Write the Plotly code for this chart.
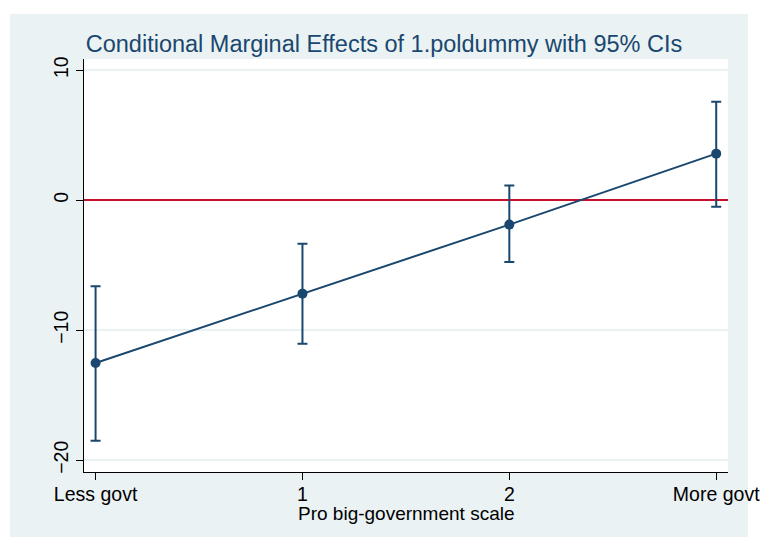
import plotly.graph_objects as go

# Conditional marginal effects of 1.poldummy across the pro big-government scale
scale_pos = [0, 1, 2, 3]
tick_labels = ["Less govt", "1", "2", "More govt"]
effect = [-12.52, -7.19, -1.88, 3.58]
ci_upper = [-6.63, -3.35, 1.12, 7.58]
ci_lower = [-18.5, -11.04, -4.75, -0.5]

navy = "#1A476F"
bg_blue = "#EAF2F3"
font_family = "Liberation Sans, Arial, sans-serif"

err_plus = [u - e for u, e in zip(ci_upper, effect)]
err_minus = [e - l for e, l in zip(effect, ci_lower)]

fig = go.Figure()
fig.add_trace(go.Scatter(
    x=scale_pos, y=effect,
    mode="lines+markers",
    line=dict(color=navy, width=2),
    marker=dict(color=navy, size=10),
    error_y=dict(type="data", symmetric=False, array=err_plus, arrayminus=err_minus,
                 color=navy, thickness=2, width=5),
    showlegend=False,
))

W, H = 761, 537
ml, mr, mt, mb = 84, 33, 59, 65
pw, ph = W - ml - mr, H - mt - mb

def px_x(p):
    return (p - ml) / pw

def px_y(p):
    return (H - mb - p) / ph

# Light graph region behind a white plot region
fig.add_shape(type="rect", xref="paper", yref="paper", layer="below",
              x0=px_x(10), x1=px_x(748), y0=px_y(545), y1=px_y(14),
              fillcolor=bg_blue, line=dict(width=0))
fig.add_shape(type="rect", xref="paper", yref="paper", layer="below",
              x0=0, x1=1, y0=0, y1=1, fillcolor="white", line=dict(width=0))

fig.add_annotation(text="Pro big-government scale", xref="paper", yref="paper",
                   x=0.5, y=px_y(513), xanchor="center", yanchor="middle",
                   showarrow=False, font=dict(size=19, color="black"))

fig.update_layout(
    width=W, height=H,
    margin=dict(l=ml, r=mr, t=mt, b=mb, autoexpand=False),
    paper_bgcolor="white",
    plot_bgcolor="white",
    font=dict(family=font_family, color="black"),
    title=dict(text="Conditional Marginal Effects of 1.poldummy with 95% CIs",
               x=384 / W, xanchor="center",
               y=1 - 44 / H, yanchor="middle",
               font=dict(size=23.5, color=navy, family=font_family)),
)

fig.update_xaxes(
    range=[-0.056, 3.057],
    automargin=False,
    tickmode="array", tickvals=scale_pos, ticktext=tick_labels,
    ticks="outside", ticklen=7, tickcolor="black", tickwidth=1,
    ticklabelstandoff=-3,
    showline=True, linecolor="black", linewidth=1.2,
    showgrid=False, zeroline=False,
    tickfont=dict(size=19.5, color="black"),
)

fig.update_yaxes(
    range=[-20.91, 10.86],
    automargin=False,
    tickvals=[-20, -10, 0, 10],
    tickangle=-90,
    ticks="outside", ticklen=7, tickcolor="black", tickwidth=1,
    ticklabelstandoff=0,
    showline=True, linecolor="black", linewidth=1.2,
    showgrid=True, gridcolor=bg_blue, gridwidth=1.5,
    zeroline=True, zerolinecolor="#C8102E", zerolinewidth=1.5,
    tickfont=dict(size=19.5, color="black"),
)

fig.write_html("out.html")
